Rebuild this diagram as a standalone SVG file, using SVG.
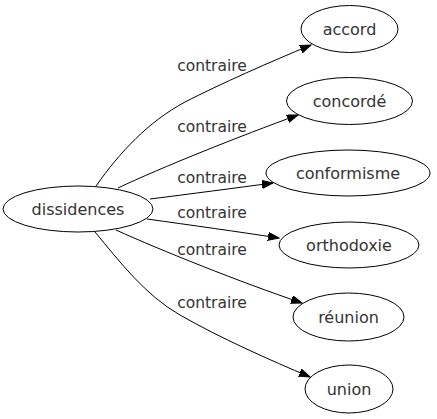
<svg xmlns="http://www.w3.org/2000/svg" width="437" height="419" viewBox="0 0 437 419">
<style>
.node ellipse{fill:none;stroke:#000;stroke-width:1}
.node text{font-family:"DejaVu Sans",sans-serif;font-size:16px;fill:#333;text-anchor:middle}
.edge path{fill:none;stroke:#000;stroke-width:1}
.lbl{font-family:"DejaVu Sans",sans-serif;font-size:15.5px;fill:#333;text-anchor:middle}
</style>
<defs>
<marker id="arr" markerUnits="userSpaceOnUse" markerWidth="12" markerHeight="10" refX="11" refY="4" orient="auto">
<path d="M0,0 L11,4 L0,8 Z" fill="#000" stroke="#000" stroke-width="1"/>
</marker>
</defs>
<rect width="437" height="419" fill="#fff"/>
<g id="edges" class="edge">
<path d="M96,186 C120,152 148,122 185,102 C220,84 270,62 311,45" marker-end="url(#arr)"/>
<path d="M118,188 C160,168 240,136 298,115" marker-end="url(#arr)"/>
<path d="M150,199 C190,194 235,188 273,183" marker-end="url(#arr)"/>
<path d="M147,219 C190,225 240,232 279,238" marker-end="url(#arr)"/>
<path d="M116,230 C160,250 240,282 302,303" marker-end="url(#arr)"/>
<path d="M95,232 C120,262 145,295 180,315 C220,338 270,360 310,377" marker-end="url(#arr)"/>
<text class="lbl" x="212" y="71">contraire</text>
<text class="lbl" x="212" y="132">contraire</text>
<text class="lbl" x="212" y="182.5">contraire</text>
<text class="lbl" x="212" y="218">contraire</text>
<text class="lbl" x="212" y="255">contraire</text>
<text class="lbl" x="212" y="307.5">contraire</text>
</g>
<g id="dissidences" class="node"><ellipse cx="78" cy="209" rx="75" ry="23"/><text x="78" y="215">dissidences</text></g>
<g id="accord" class="node"><ellipse cx="349.5" cy="29" rx="48.5" ry="23.5"/><text x="349.5" y="34.5">accord</text></g>
<g id="concorde" class="node"><ellipse cx="349.5" cy="101" rx="63" ry="23.5"/><text x="349.5" y="106.5">concordé</text></g>
<g id="conformisme" class="node"><ellipse cx="348" cy="173" rx="82" ry="23"/><text x="348" y="178.5">conformisme</text></g>
<g id="orthodoxie" class="node"><ellipse cx="349" cy="245" rx="70" ry="23"/><text x="349" y="250.5">orthodoxie</text></g>
<g id="reunion" class="node"><ellipse cx="348.5" cy="317" rx="55.5" ry="24"/><text x="348.5" y="322.5">réunion</text></g>
<g id="union" class="node"><ellipse cx="349" cy="389" rx="44" ry="24"/><text x="349" y="394.5">union</text></g>
</svg>
